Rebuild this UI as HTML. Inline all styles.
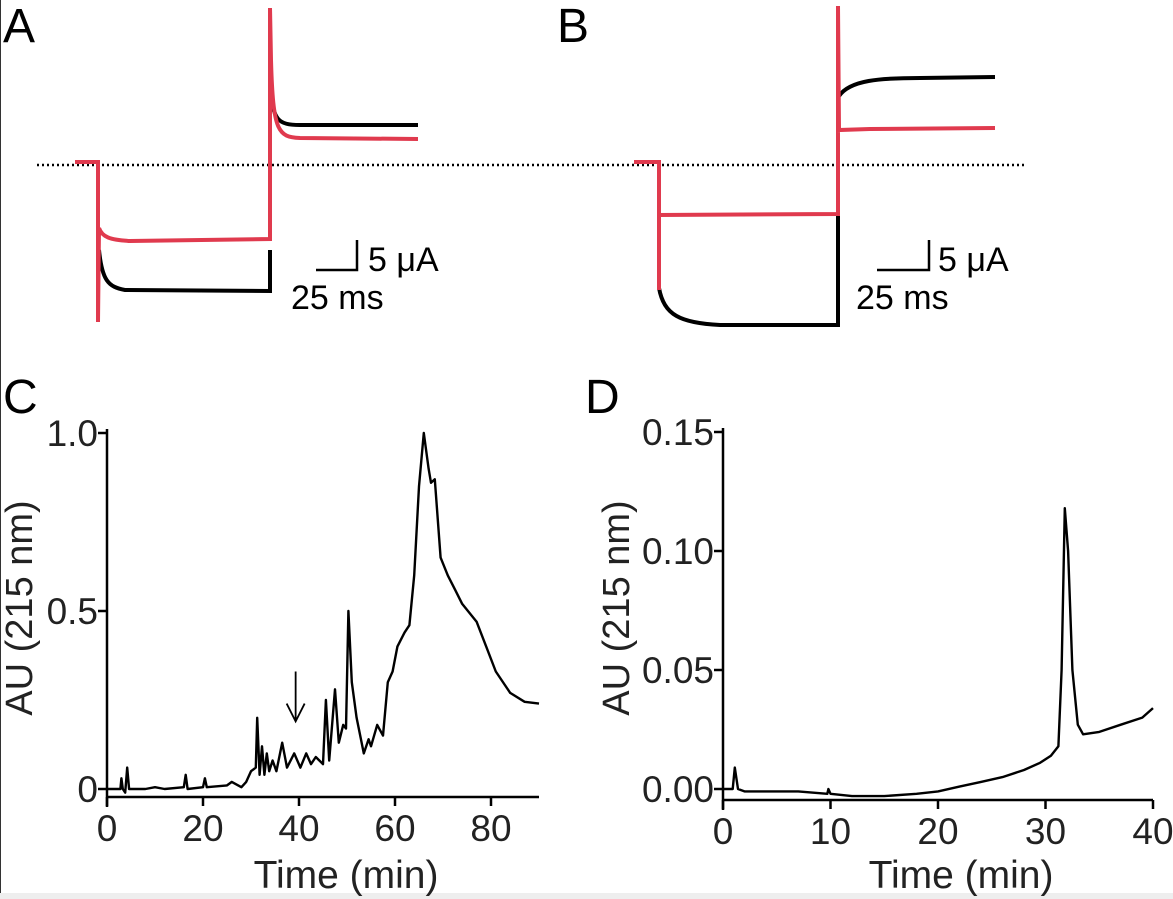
<!DOCTYPE html>
<html><head><meta charset="utf-8">
<style>
html,body{margin:0;padding:0;background:#fff;}
svg{display:block;font-family:"Liberation Sans",sans-serif;}
</style></head>
<body>
<svg id="fig" width="1173" height="899" viewBox="0 0 1173 899">
<rect x="0" y="0" width="1173" height="899" fill="#fff"/>
<line x1="0.5" y1="0" x2="0.5" y2="899" stroke="#333" stroke-width="1"/>
<rect x="0" y="893" width="1173" height="6" fill="#eee"/>
<text x="3" y="42" font-size="48">A</text>
<text x="557" y="42" font-size="48">B</text>
<text x="3" y="413" font-size="48">C</text>
<text x="585" y="413" font-size="48">D</text>

<line x1="37" y1="165" x2="1025" y2="165" stroke="#000" stroke-width="2.5" stroke-dasharray="2,3"/>

<g fill="none" stroke-width="4">
<path d="M99 250 C102 280,108 287,125 290 L270 291 L270 250" stroke="#000"/>
<path d="M271 90 C273 120,278 125,300 125 L418 125" stroke="#000"/>
<path d="M75 162 L98 162 L98 322 L99 228 C102 237,110 240,130 241 L270 239 L270 8 L271 60 C273 132,278 137,300 138 L418 139" stroke="#e03a4e"/>
</g>
<g>
<path d="M316 270 L357 270 L357 240" fill="none" stroke="#000" stroke-width="2.5"/>
<text x="368" y="271" font-size="34">5 μA</text>
<text x="291" y="309" font-size="34">25 ms</text>
</g>

<g fill="none" stroke-width="4">
<path d="M659 288 C664 315,680 323,720 325 L838 325 L838 215" stroke="#000"/>
<path d="M839 96 C850 80,880 78,920 78 L995 77" stroke="#000"/>
<path d="M634 162 L659 162 L659 290 L659 215 L838 214 L838 6 L839 130 L870 129 L995 128" stroke="#e03a4e"/>
</g>
<g>
<path d="M877 270 L929 270 L929 240" fill="none" stroke="#000" stroke-width="2.5"/>
<text x="938" y="271" font-size="34">5 μA</text>
<text x="856" y="309" font-size="34">25 ms</text>
</g>

<g id="chartC"></g>
<g id="chartD"></g>
</svg>
<script>
// Panel C data
const cTime = [0,2.8,3,3.3,3.8,4.2,4.6,8,10,12,16,16.4,16.8,20,20.4,20.8,25,26,28,29,30,31,31.3,31.8,32.3,32.8,33.3,33.8,34.5,35.3,36.5,37.5,39,40.3,41.5,42.5,43.5,45,45.6,46.3,47.5,48.3,49.2,49.8,50.3,51,52,53.5,54.5,55,56.3,57.5,58.5,59.5,60.5,62,63,64,65,66,67,67.5,68.3,69.5,71,72.5,74,77,79,81,84,87,90];
const cAbs = [0,0,0.03,0,-0.01,0.06,0,0,0.005,0,0.005,0.04,0,0.005,0.03,0.005,0.01,0.02,0.005,0.02,0.05,0.06,0.2,0.04,0.12,0.04,0.1,0.05,0.08,0.05,0.13,0.06,0.1,0.06,0.1,0.07,0.09,0.07,0.25,0.08,0.28,0.13,0.18,0.17,0.5,0.3,0.2,0.1,0.14,0.12,0.18,0.15,0.3,0.33,0.4,0.44,0.46,0.6,0.85,1.0,0.9,0.86,0.87,0.65,0.6,0.56,0.52,0.47,0.4,0.33,0.27,0.245,0.24];
const cXTicks = [0,20,40,60,80];
const cYTicks = [0,0.5,1.0];
const cYTickLabels = ["0","0.5","1.0"];
// Panel D data
const dTime = [0,0.9,1.1,1.4,2,5,7,9.7,9.8,10,12,15,18,20,22,24,26,28,29.5,30.5,31.2,31.5,31.8,32.1,32.5,33,33.5,35,37,39,40];
const dAbs = [0,0,0.009,0,-0.001,-0.001,-0.001,-0.002,0,-0.002,-0.003,-0.003,-0.002,-0.001,0.001,0.003,0.005,0.008,0.011,0.014,0.018,0.05,0.118,0.1,0.05,0.027,0.023,0.024,0.027,0.03,0.034];
const dXTicks = [0,10,20,30,40];
const dYTicks = [0,0.05,0.10,0.15];
const dYTickLabels = ["0.00","0.05","0.10","0.15"];

const NS="http://www.w3.org/2000/svg";
function mk(tag, attrs, parent){const e=document.createElementNS(NS,tag);for(const k in attrs)e.setAttribute(k,attrs[k]);parent.appendChild(e);return e;}

function drawChart(g, cfg){
  const sx = v => cfg.x0 + (v - cfg.xmin)/(cfg.xmax - cfg.xmin)*(cfg.x1 - cfg.x0);
  const sy = v => cfg.yb - (v - cfg.ymin)/(cfg.ymax - cfg.ymin)*(cfg.yb - cfg.yt);
  const ya = mk('line',{x1:cfg.x0,y1:cfg.yt-4,x2:cfg.x0,y2:cfg.axisY+10,stroke:'#000','stroke-width':2.5},g);
  
  
  const xa = mk('line',{x1:cfg.x0,y1:cfg.axisY,x2:sx(cfg.xend),y2:cfg.axisY,stroke:'#000','stroke-width':2.5},g);
  
  
  cfg.xt.forEach(t=>{
    const l=mk('line',{x1:sx(t),y1:cfg.axisY,x2:sx(t),y2:cfg.axisY+9,stroke:'#000','stroke-width':2.5},g);
    
    
    const tx=mk('text',{x:sx(t),y:cfg.axisY+44,'font-size':37,'text-anchor':'middle',fill:'#222'},g);
    tx.textContent=String(t);
    
    
  });
  cfg.yt2.forEach((t,i)=>{
    const l=mk('line',{x1:cfg.x0-9,y1:sy(t),x2:cfg.x0,y2:sy(t),stroke:'#000','stroke-width':2.5},g);
    
    
    const tx=mk('text',{x:cfg.x0-9,y:sy(t)+13,'font-size':37,'text-anchor':'end',fill:'#222'},g);
    tx.textContent=cfg.ytl[i];
    
    
  });
  const d = cfg.xs.map((v,i)=>(i?'L':'M')+sx(v).toFixed(1)+' '+sy(cfg.ys[i]).toFixed(1)).join(' ');
  const p=mk('path',{d:d,fill:'none',stroke:'#000','stroke-width':2.4,'stroke-linejoin':'round'},g);
  
  
  const xt=mk('text',{x:(cfg.x0+sx(cfg.xend))/2+23,y:888,'font-size':39,'text-anchor':'middle',fill:'#222'},g);
  xt.textContent='Time (min)';
  
  
  const yt=mk('text',{x:0,y:0,'font-size':38,'text-anchor':'middle',fill:'#222',transform:`translate(${cfg.ytx},608) rotate(-90)`},g);
  yt.textContent='AU (215 nm)';
  
  
  return {sx,sy};
}
const c = drawChart(document.getElementById('chartC'),{x0:107,x1:491,xmin:0,xmax:80,xend:90,yt:433,yb:789,ymin:0,ymax:1,axisY:797,xt:cXTicks,yt2:cYTicks,ytl:cYTickLabels,xs:cTime,ys:cAbs,ytx:32});
drawChart(document.getElementById('chartD'),{x0:723,x1:1153,xmin:0,xmax:40,xend:40,yt:432,yb:789,ymin:0,ymax:0.15,axisY:800,xt:dXTicks,yt2:dYTicks,ytl:dYTickLabels,xs:dTime,ys:dAbs,ytx:629});
// arrow annotation in C
const g=document.getElementById('chartC');
const ax=c.sx(39.3);
const ar=mk('path',{d:`M${ax} ${c.sy(0.33)} L${ax} ${c.sy(0.19)} M${ax-9} ${c.sy(0.24)} L${ax} ${c.sy(0.19)} L${ax+9} ${c.sy(0.24)}`,fill:'none',stroke:'#000','stroke-width':1.8},g);


</script>
</body></html>
